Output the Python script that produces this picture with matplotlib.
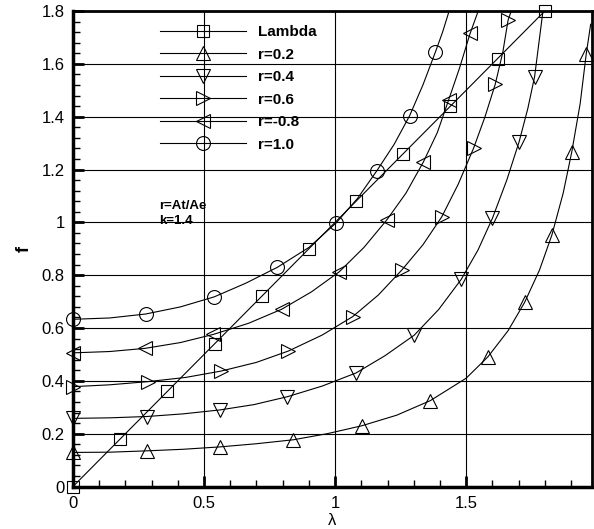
import numpy as np
import matplotlib
matplotlib.use('Agg')
import matplotlib.pyplot as plt
from matplotlib.ticker import MultipleLocator

# ----------------------Data----------------------------------------------
lam_x = [0.0, 1.8]
lam_y = [0.0, 1.8]
lam_mx = [0.0, 0.18, 0.36, 0.54, 0.72, 0.9, 1.08, 1.26, 1.44, 1.62, 1.8]
lam_my = [0.0, 0.18, 0.36, 0.54, 0.72, 0.9, 1.08, 1.26, 1.44, 1.62, 1.8]

r02_x = [0.0, 0.14, 0.281, 0.42, 0.561, 0.7, 0.841, 0.97, 1.102, 1.235, 1.363, 1.5,
         1.583, 1.66, 1.723, 1.78, 1.827, 1.87, 1.903, 1.935, 1.958, 1.975]
r02_y = [0.129, 0.13, 0.135, 0.141, 0.150, 0.162, 0.177, 0.2, 0.23, 0.27, 0.325, 0.41,
         0.491, 0.59, 0.697, 0.82, 0.952, 1.11, 1.267, 1.45, 1.637, 1.75]
r02_mx = [0.0, 0.281, 0.561, 0.841, 1.102, 1.363, 1.583, 1.723, 1.827, 1.903, 1.958]
r02_my = [0.129, 0.135, 0.150, 0.177, 0.23, 0.325, 0.491, 0.697, 0.952, 1.267, 1.637]

r04_x = [0.0, 0.14, 0.281, 0.42, 0.561, 0.69, 0.818, 0.95, 1.08, 1.19, 1.302, 1.395,
         1.481, 1.545, 1.6, 1.655, 1.702, 1.735, 1.761, 1.793]
r04_y = [0.258, 0.26, 0.265, 0.275, 0.29, 0.31, 0.34, 0.38, 0.43, 0.495, 0.573, 0.67,
         0.784, 0.895, 1.015, 1.16, 1.305, 1.43, 1.551, 1.8]
r04_mx = [0.0, 0.281, 0.561, 0.818, 1.08, 1.302, 1.481, 1.6, 1.702, 1.761]
r04_my = [0.258, 0.265, 0.29, 0.34, 0.43, 0.573, 0.784, 1.015, 1.305, 1.551]

r06_x = [0.0, 0.14, 0.285, 0.43, 0.565, 0.7, 0.822, 0.95, 1.067, 1.165, 1.254, 1.335,
         1.407, 1.47, 1.528, 1.572, 1.611, 1.64, 1.66, 1.672]
r06_y = [0.378, 0.385, 0.397, 0.413, 0.437, 0.47, 0.513, 0.573, 0.643, 0.725, 0.819, 0.915,
         1.021, 1.145, 1.28, 1.4, 1.523, 1.645, 1.766, 1.8]
r06_mx = [0.0, 0.285, 0.565, 0.822, 1.067, 1.254, 1.407, 1.528, 1.611, 1.66]
r06_my = [0.378, 0.397, 0.437, 0.513, 0.643, 0.819, 1.021, 1.28, 1.523, 1.766]

r08_x = [0.0, 0.14, 0.275, 0.41, 0.536, 0.67, 0.796, 0.91, 1.016, 1.11, 1.197, 1.27,
         1.337, 1.39, 1.433, 1.475, 1.515, 1.546]
r08_y = [0.506, 0.511, 0.523, 0.545, 0.576, 0.618, 0.671, 0.737, 0.813, 0.905, 1.009, 1.11,
         1.229, 1.34, 1.463, 1.585, 1.715, 1.8]
r08_mx = [0.0, 0.275, 0.536, 0.796, 1.016, 1.197, 1.337, 1.433, 1.515]
r08_my = [0.506, 0.523, 0.576, 0.671, 0.813, 1.009, 1.229, 1.463, 1.715]

r10_x = [0.0, 0.14, 0.277, 0.41, 0.539, 0.66, 0.78, 0.9, 1.004, 1.085, 1.159, 1.225,
         1.284, 1.335, 1.382, 1.41, 1.435]
r10_y = [0.633, 0.638, 0.653, 0.68, 0.718, 0.77, 0.83, 0.905, 0.998, 1.09, 1.195, 1.295,
         1.403, 1.52, 1.643, 1.72, 1.8]
r10_mx = [0.0, 0.277, 0.539, 0.78, 1.004, 1.159, 1.284, 1.382]
r10_my = [0.633, 0.653, 0.718, 0.83, 0.998, 1.195, 1.403, 1.643]

labels = ['Lambda', 'r=0.2', 'r=0.4', 'r=0.6', 'r=-0.8', 'r=1.0']
markers = ['s', '^', 'v', '>', '<', 'o']
# ------------------------------------------------------------

# -----------------------Plot-------------------------------
plt.rcParams['font.family'] = ['Liberation Sans', 'DejaVu Sans']

fig = plt.figure(figsize=(5.94, 5.29), dpi=100)
ax = fig.add_axes([0.1229, 0.0803, 0.8737, 0.8989])

lines = [(lam_x, lam_y, lam_mx, lam_my), (r02_x, r02_y, r02_mx, r02_my),
         (r04_x, r04_y, r04_mx, r04_my), (r06_x, r06_y, r06_mx, r06_my),
         (r08_x, r08_y, r08_mx, r08_my), (r10_x, r10_y, r10_mx, r10_my)]
msize = {'s': 8, 'o': 10, '^': 10.5, 'v': 10.5, '>': 10.5, '<': 10.5}

handles = []
for (x, y, mx, my), m, lab in zip(lines, markers, labels):
    ax.plot(x, y, color='black', lw=0.8, zorder=3, clip_on=True)
    ax.plot(mx, my, ls='none', marker=m, ms=msize[m], mfc='none', mec='black',
            mew=0.8, zorder=4, clip_on=False)
    h, = ax.plot([], [], color='black', lw=0.8, marker=m, ms=msize[m], mfc='none',
                 mec='black', mew=0.8)
    handles.append(h)

leg = ax.legend(handles, labels, loc='upper left', bbox_to_anchor=(160 / 594, 1 - 25 / 529),
                bbox_transform=fig.transFigure, frameon=False, handlelength=5.6,
                handletextpad=0.8, labelspacing=0.56, borderpad=0, borderaxespad=0,
                prop={'weight': 'bold', 'size': 11})

ax.text(0.33, 1.085, 'r=At/Ae\nk=1.4', fontsize=9.5, fontweight='bold', va='top',
        ha='left', linespacing=1.3)

ax.set_xlim(0, 1.98)
ax.set_ylim(0, 1.8)
ax.xaxis.set_major_locator(MultipleLocator(0.5))
ax.xaxis.set_minor_locator(MultipleLocator(0.1))
ax.yaxis.set_major_locator(MultipleLocator(0.2))
ax.yaxis.set_minor_locator(MultipleLocator(0.04))
ax.set_xticks([0, 0.5, 1, 1.5])
ax.set_xticklabels(['0', '0.5', '1', '1.5'])
ax.set_yticks(np.arange(0, 1.81, 0.2))
ax.set_yticklabels(['0', '0.2', '0.4', '0.6', '0.8', '1', '1.2', '1.4', '1.6', '1.8'])

ax.grid(True, which='major', color='black', lw=0.8)
ax.set_axisbelow(True)
ax.tick_params(which='major', direction='in', length=8, width=2, labelsize=12, pad=6)
ax.tick_params(which='minor', direction='in', length=5, width=1)
ax.tick_params(axis='x', which='major', pad=7)
for s in ['left', 'bottom']:
    ax.spines[s].set_linewidth(2.5)
for s in ['top', 'right']:
    ax.spines[s].set_linewidth(2)

ax.set_xlabel('λ', fontsize=12, labelpad=1)
ax.set_ylabel('f', fontsize=13, fontweight='bold', labelpad=6)
# ------------------------------------------------------------

plt.savefig('out.png', dpi=100)
